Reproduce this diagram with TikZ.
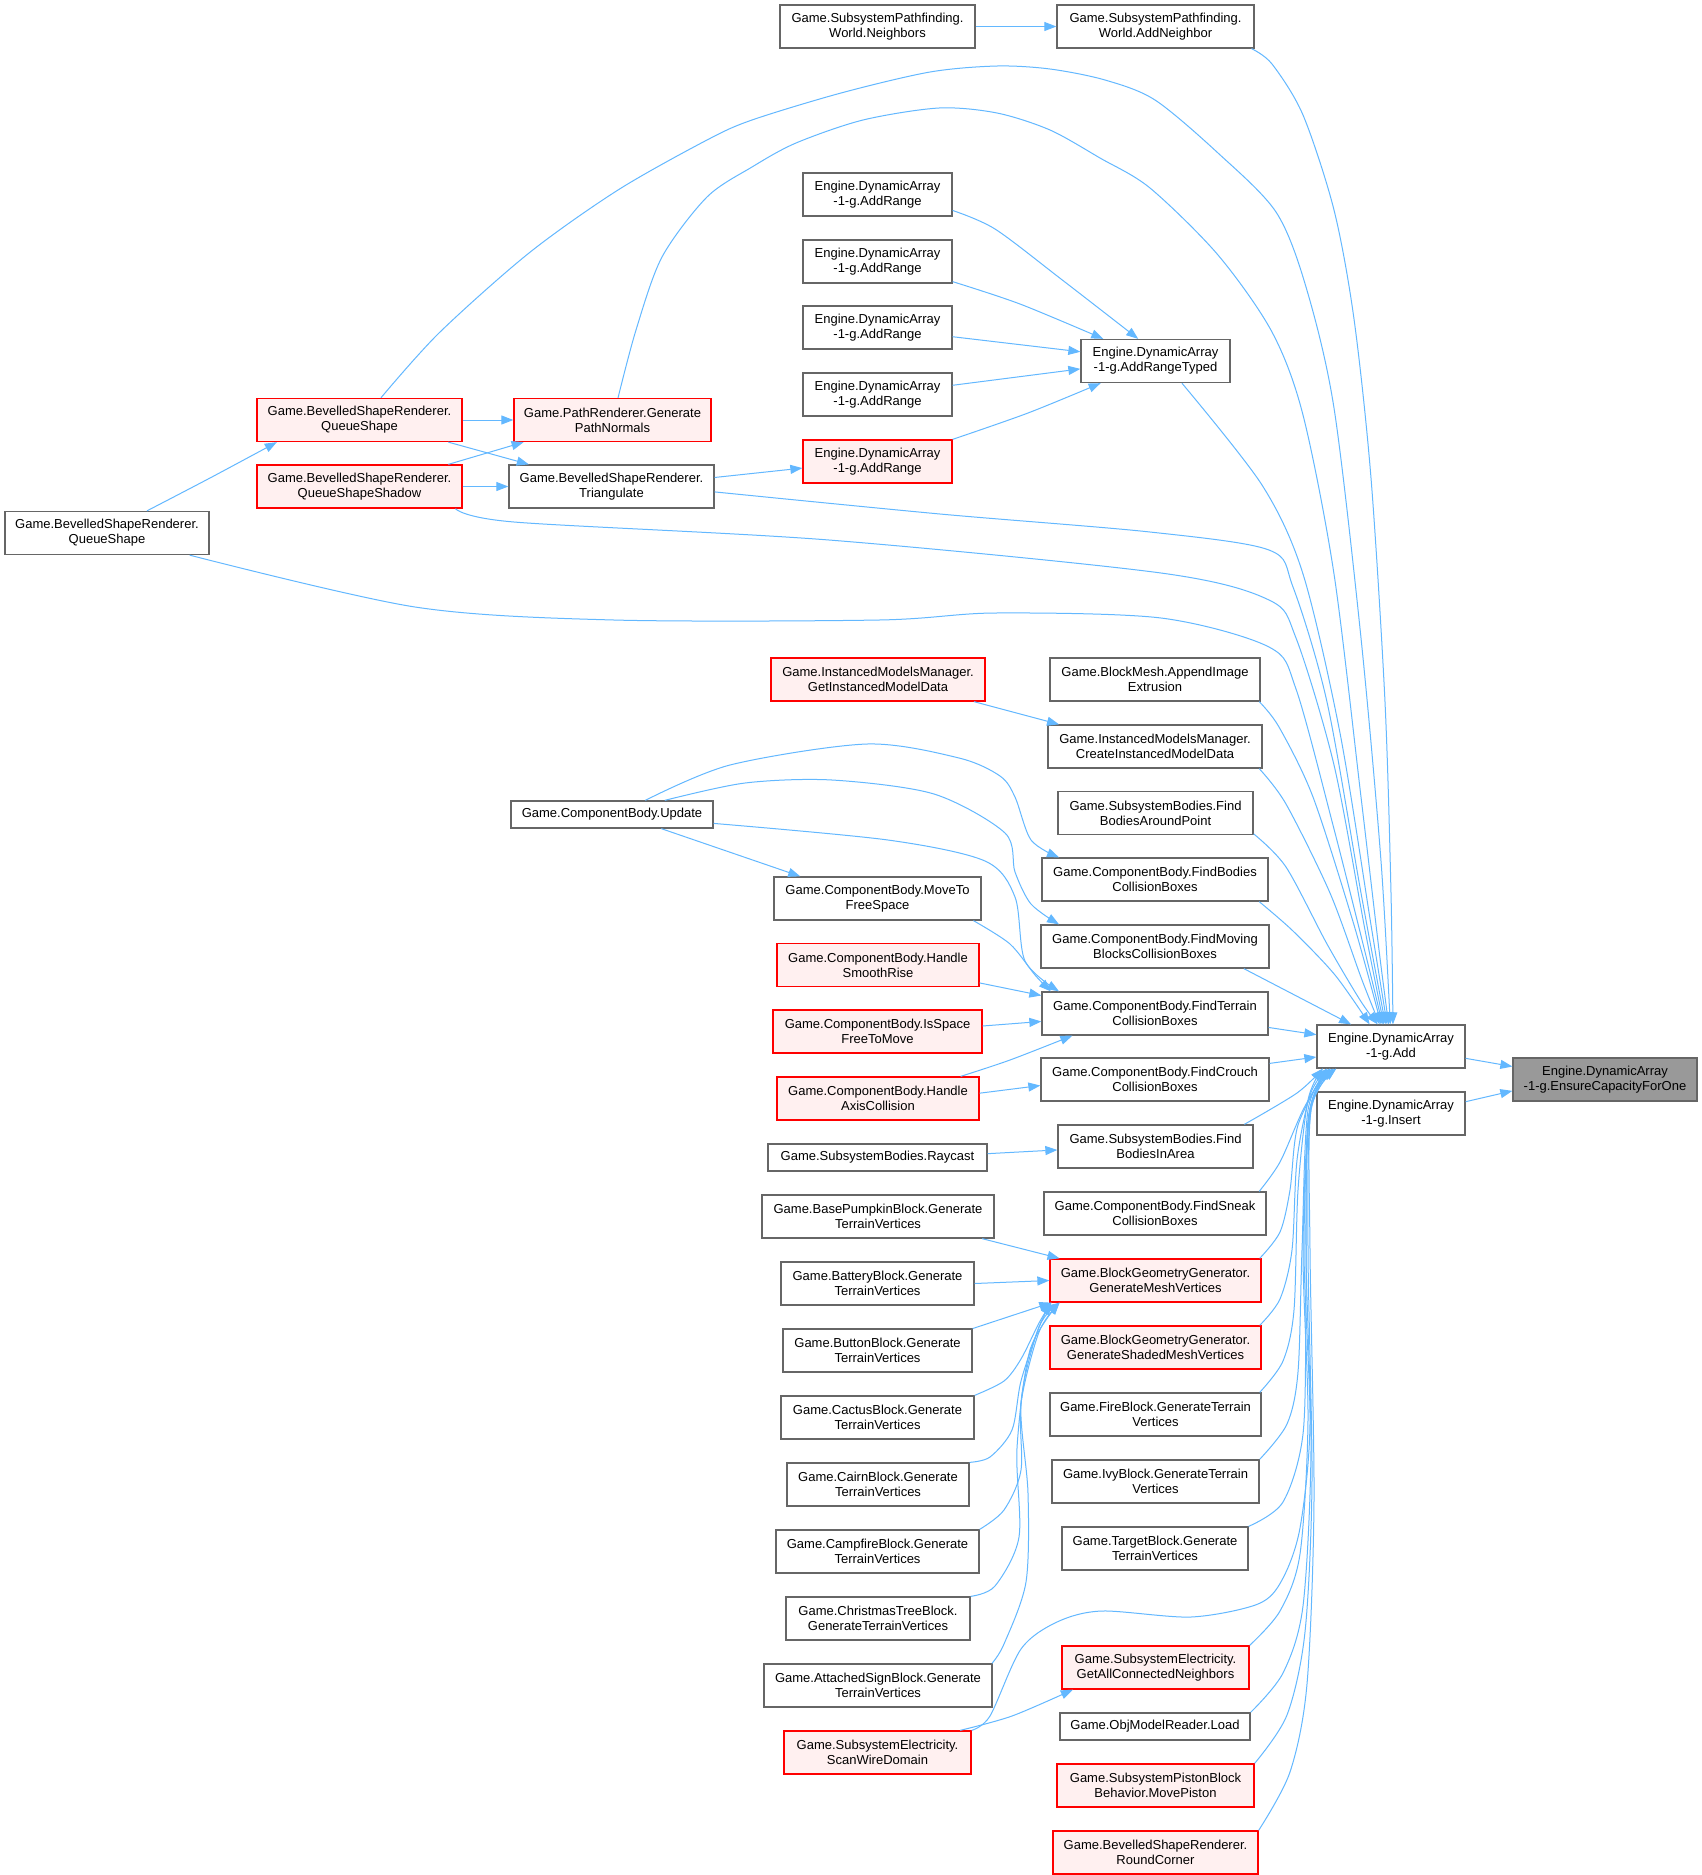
\documentclass[tikz,border=0pt]{standalone}
\usepackage{fontspec}
\setmainfont{Liberation Sans}
\usetikzlibrary{arrows.meta}
\definecolor{edgec}{HTML}{63B8FF}
\definecolor{boxb}{HTML}{666666}
\definecolor{redb}{HTML}{FF0000}
\definecolor{redf}{HTML}{FFF0F0}
\definecolor{grayf}{HTML}{999999}
\begin{document}
\begin{tikzpicture}[x=1pt,y=-1pt,
  nbox/.style={draw=boxb, fill=white, line width=1.3pt, align=center, inner sep=0pt,
    font=\fontsize{13}{15}\selectfont, minimum height=43pt},
  sbox/.style={nbox, minimum height=27pt},
  rbox/.style={nbox, draw=redb, fill=redf},
  gbox/.style={nbox, fill=grayf},
  edge/.style={draw=edgec, line width=1pt, -{Triangle[length=12pt,width=9pt]}},
  ]
\useasboundingbox (0,0) rectangle (1702,1875);
\fill[white] (0,0) rectangle (1702,1875);

% right
\node[gbox, minimum width=184pt] (ens) at (1605,1079.5) {Engine.DynamicArray\\-1-g.EnsureCapacityForOne};
\node[nbox, minimum width=148pt] (add) at (1391,1046.5) {Engine.DynamicArray\\-1-g.Add};
\node[nbox, minimum width=148pt] (ins) at (1391,1113.5) {Engine.DynamicArray\\-1-g.Insert};
% top
\node[nbox, minimum width=195pt] (nbr) at (877.5,26.5) {Game.SubsystemPathfinding.\\World.Neighbors};
\node[nbox, minimum width=197pt] (addnb) at (1155.5,26.5) {Game.SubsystemPathfinding.\\World.AddNeighbor};
\node[nbox, minimum width=149pt] (ar1) at (877.5,194.5) {Engine.DynamicArray\\-1-g.AddRange};
\node[nbox, minimum width=149pt] (ar2) at (877.5,261.5) {Engine.DynamicArray\\-1-g.AddRange};
\node[nbox, minimum width=149pt] (ar3) at (877.5,327.5) {Engine.DynamicArray\\-1-g.AddRange};
\node[nbox, minimum width=149pt] (ar4) at (877.5,394.5) {Engine.DynamicArray\\-1-g.AddRange};
\node[rbox, minimum width=149pt] (ar5) at (877.5,461.5) {Engine.DynamicArray\\-1-g.AddRange};
\node[nbox, minimum width=149pt] (art) at (1155.5,361) {Engine.DynamicArray\\-1-g.AddRangeTyped};
\node[rbox, minimum width=197pt] (gpn) at (612.5,420) {Game.PathRenderer.Generate\\PathNormals};
\node[rbox, minimum width=205pt] (qsr) at (359.5,420) {Game.BevelledShapeRenderer.\\QueueShape};
\node[rbox, minimum width=205pt] (qss) at (359.5,486.5) {Game.BevelledShapeRenderer.\\QueueShapeShadow};
\node[nbox, minimum width=205pt] (tri) at (611.5,486.5) {Game.BevelledShapeRenderer.\\Triangulate};
\node[nbox, minimum width=204pt] (qsl) at (107,533) {Game.BevelledShapeRenderer.\\QueueShape};
% middle column
\node[nbox, minimum width=210pt] (app) at (1155,679.5) {Game.BlockMesh.AppendImage\\Extrusion};
\node[rbox, minimum width=214pt] (gim) at (878,679.5) {Game.InstancedModelsManager.\\GetInstancedModelData};
\node[nbox, minimum width=214pt] (cim) at (1155,746.5) {Game.InstancedModelsManager.\\CreateInstancedModelData};
\node[nbox, minimum width=195pt] (fbap) at (1155.5,813) {Game.SubsystemBodies.Find\\BodiesAroundPoint};
\node[nbox, minimum width=226pt] (fbcb) at (1155,879.5) {Game.ComponentBody.FindBodies\\CollisionBoxes};
\node[nbox, minimum width=228pt] (fmb) at (1155,946.5) {Game.ComponentBody.FindMoving\\BlocksCollisionBoxes};
\node[nbox, minimum width=226pt] (ftc) at (1155,1013.5) {Game.ComponentBody.FindTerrain\\CollisionBoxes};
\node[nbox, minimum width=228pt] (fcc) at (1155,1079.5) {Game.ComponentBody.FindCrouch\\CollisionBoxes};
\node[nbox, minimum width=195pt] (fbia) at (1155.5,1146.5) {Game.SubsystemBodies.Find\\BodiesInArea};
\node[nbox, minimum width=222pt] (fsc) at (1155,1213.5) {Game.ComponentBody.FindSneak\\CollisionBoxes};
\node[rbox, minimum width=211pt] (gmv) at (1155.5,1280.5) {Game.BlockGeometryGenerator.\\GenerateMeshVertices};
\node[rbox, minimum width=211pt] (gsmv) at (1155.5,1347.5) {Game.BlockGeometryGenerator.\\GenerateShadedMeshVertices};
\node[nbox, minimum width=211pt] (fire) at (1155.5,1414.5) {Game.FireBlock.GenerateTerrain\\Vertices};
\node[nbox, minimum width=207pt] (ivy) at (1155.5,1481.5) {Game.IvyBlock.GenerateTerrain\\Vertices};
\node[nbox, minimum width=186pt] (tgt) at (1155,1548.5) {Game.TargetBlock.Generate\\TerrainVertices};
\node[rbox, minimum width=187pt] (gacn) at (1155.5,1667.5) {Game.SubsystemElectricity.\\GetAllConnectedNeighbors};
\node[sbox, minimum width=190pt] (obj) at (1155,1726.5) {Game.ObjModelReader.Load};
\node[rbox, minimum width=197pt] (mp) at (1155.5,1785.5) {Game.SubsystemPistonBlock\\Behavior.MovePiston};
\node[rbox, minimum width=205pt] (rc) at (1155.5,1852.5) {Game.BevelledShapeRenderer.\\RoundCorner};
% left column
\node[sbox, minimum width=202pt] (upd) at (612,814.5) {Game.ComponentBody.Update};
\node[nbox, minimum width=207pt] (mtfs) at (877.5,898.5) {Game.ComponentBody.MoveTo\\FreeSpace};
\node[rbox, minimum width=202pt] (hsr) at (878,965) {Game.ComponentBody.Handle\\SmoothRise};
\node[rbox, minimum width=209pt] (isf) at (877.5,1031.5) {Game.ComponentBody.IsSpace\\FreeToMove};
\node[rbox, minimum width=202pt] (hac) at (878,1098.5) {Game.ComponentBody.Handle\\AxisCollision};
\node[sbox, minimum width=219pt] (ray) at (877.5,1157.5) {Game.SubsystemBodies.Raycast};
\node[nbox, minimum width=232pt] (bpb) at (878,1216.5) {Game.BasePumpkinBlock.Generate\\TerrainVertices};
\node[nbox, minimum width=193pt] (bat) at (877.5,1283.5) {Game.BatteryBlock.Generate\\TerrainVertices};
\node[nbox, minimum width=189pt] (btn) at (877.5,1350.5) {Game.ButtonBlock.Generate\\TerrainVertices};
\node[nbox, minimum width=193pt] (cac) at (877.5,1417.5) {Game.CactusBlock.Generate\\TerrainVertices};
\node[nbox, minimum width=182pt] (cairn) at (878,1484.5) {Game.CairnBlock.Generate\\TerrainVertices};
\node[nbox, minimum width=203pt] (camp) at (877.5,1551.5) {Game.CampfireBlock.Generate\\TerrainVertices};
\node[nbox, minimum width=184pt] (xmas) at (878,1618.5) {Game.ChristmasTreeBlock.\\GenerateTerrainVertices};
\node[nbox, minimum width=228pt] (sign) at (878,1685.5) {Game.AttachedSignBlock.Generate\\TerrainVertices};
\node[rbox, minimum width=187pt] (swd) at (877.5,1752.5) {Game.SubsystemElectricity.\\ScanWireDomain};

% edges: right
\draw[edge] (add.-9) -- (ens.172);
\draw[edge] (ins.9) -- (ens.187);
% top
\draw[edge] (nbr.east) -- (addnb.west);
\draw[edge] plot[smooth] coordinates {(addnb.-13) (1272,64) (1303,115) (1334,210) (1354,319) (1371,478) (1385,702) (1391,893) (add.85)};
\draw[edge] plot[smooth] coordinates {(qsr.46) (439,333) (529,253) (618,190) (707,140) (752,120) (841,93) (930,72) (997,66) (1050,69) (1105,80) (1155,100) (1218,153) (1276,212) (1306,287) (1334,408) (1361,638) (1381,861) (add.92)};
\draw[edge] plot[smooth] coordinates {(gpn.76) (636,330) (662,257) (707,197) (752,167) (796,143) (863,120) (939,108) (997,113) (1050,130) (1100,158) (1150,188) (1218,255) (1272,332) (1303,415) (1334,574) (1361,797) (1379,950) (add.96)};
\draw[edge] plot[smooth] coordinates {(art.-40) (1262,485) (1303,574) (1340,733) (1371,925) (add.100)};
\draw[edge] plot[smooth] coordinates {(tri.-3.6) (940,514) (1150,532) (1269,550) (1293,587) (1327,702) (1361,893) (add.104)};
\draw[edge] plot[smooth] coordinates {(qss.-13) (514,522) (829,540) (1161,573) (1269,600) (1296,638) (1334,765) (1365,930) (add.108)};
\draw[edge] plot[smooth] coordinates {(qsl.-15) (415,607) (614,620) (879,620) (995,613) (1161,618) (1269,647) (1296,689) (1334,829) (1367,960) (add.111)};
\draw[edge] plot[smooth] coordinates {(app.-12) (1279,727) (1313,797) (1354,925) (add.114)};
\draw[edge] plot[smooth] coordinates {(cim.-12.3) (1286,804) (1330,893) (1362,980) (add.117)};
\draw[edge] plot[smooth] coordinates {(fbap.-12.6) (1286,867) (1327,944) (1360,1000) (add.121)};
\draw[edge] plot[smooth] coordinates {(fbcb.-12.9) (1293,931) (1335,975) (add.134)};
\draw[edge] (fmb.-14.2) -- (add.151);
\draw[edge] (ftc.-7.8) -- (add.171.9);
\draw[edge] (fcc.8.2) -- (add.188.1);
\draw[edge] plot[smooth] coordinates {(fbia.14) (1297,1093) (add.198.6)};
% lower callers of Add
\draw[edge] plot[smooth] coordinates {(fsc.12.5) (1280,1162) (1303,1110) (add.199)};
\draw[edge] plot[smooth] coordinates {(gmv.12.2) (1280,1232) (1290,1190) (1298,1125) (add.199)};
\draw[edge] plot[smooth] coordinates {(gsmv.12.2) (1280,1299) (1292,1250) (1297,1160) (1310,1095) (add.199.5)};
\draw[edge] plot[smooth] coordinates {(fire.12.2) (1283,1361) (1294,1310) (1298,1190) (1308,1100) (add.198)};
\draw[edge] plot[smooth] coordinates {(ivy.12) (1287,1424) (1298,1372) (1302,1250) (1308,1110) (add.200)};
\draw[edge] plot[smooth] coordinates {(tgt.north east) (1283,1502) (1303,1434) (1306,1300) (1308,1120) (add.200)};
\draw[edge] plot[smooth] coordinates {(gacn.north east) (1280,1611) (1300,1554) (1308,1420) (1303,1250) (1310,1110) (add.201)};
\draw[edge] plot[smooth] coordinates {(obj.north east) (1283,1673) (1303,1606) (1311,1450) (1306,1250) (1310,1110) (add.201)};
\draw[edge] plot[smooth] coordinates {(mp.north east) (1287,1715) (1305,1632) (1312,1480) (1308,1250) (1311,1110) (add.202)};
\draw[edge] plot[smooth] coordinates {(rc.north east) (1290,1772) (1307,1684) (1314,1500) (1310,1250) (1311,1110) (add.202)};
\draw[edge] plot[smooth] coordinates {(swd.north east) (990,1716) (1021,1649) (1057,1622) (1102,1611) (1191,1617) (1258,1604) (1282,1580) (1300,1528) (1310,1424) (1304,1250) (1310,1110) (add.200)};
% left middle
\draw[edge] plot[smooth] coordinates {(upd.23.5) (730,765) (867,744) (959,758) (1000,776) (1015,797) (1031,840) (fbcb.167)};
\draw[edge] plot[smooth] coordinates {(upd.15) (745,783) (832,780) (934,794) (1005,833) (1015,872) (1031,904) (fmb.167.5)};
\draw[edge] plot[smooth] coordinates {(upd.-5) (888,840) (985,861) (1015,897) (1025,961) (ftc.167.5)};
\draw[edge] (upd.-16) -- (mtfs.164);
\draw[edge] plot[smooth] coordinates {(mtfs.-13) (1010,944) (1035,975) (ftc.168)};
\draw[edge] (hsr.-10.1) -- (ftc.171);
\draw[edge] (isf.3.6) -- (ftc.184);
\draw[edge] plot[smooth] coordinates {(hac.15) (1010,1060) (ftc.195)};
\draw[edge] (hac.3.7) -- (fcc.183.8);
\draw[edge] (ray.2.4) -- (fbia.182.6);
\draw[edge] (gim.-13.3) -- (cim.167);
% callers of GenerateMeshVertices
\draw[edge] (bpb.-12.75) -- (gmv.167.7);
\draw[edge] (bat.east) -- (gmv.west);
\draw[edge] (btn.13.5) -- (gmv.192);
\draw[edge] plot[smooth] coordinates {(cac.north east) (1004,1381) (1021,1359) (1039,1323) (gmv.192.5)};
\draw[edge] plot[smooth] coordinates {(cairn.north east) (990,1457) (1012,1430) (1021,1381) (1039,1327) (gmv.192.5)};
\draw[edge] plot[smooth] coordinates {(camp.north east) (1004,1510) (1021,1470) (1021,1403) (1039,1332) (gmv.193)};
\draw[edge] plot[smooth] coordinates {(xmas.north east) (995,1586) (1019,1537) (1017,1448) (1030,1350) (gmv.193)};
\draw[edge] plot[smooth] coordinates {(sign.11.8) (1004,1644) (1026,1582) (1028,1493) (1021,1403) (1039,1327) (gmv.193.5)};
\draw[edge] plot[smooth] coordinates {(swd.15) (1012,1716) (gacn.195)};
% top-left
\draw[edge] plot[smooth] coordinates {(qsl.29.5) (210,478) (qsr.195.5)};
\draw[edge] (qsr.east) -- (gpn.west);
\draw[edge] (qsr.-14.3) -- (tri.165.7);
\draw[edge] (qss.14.3) -- (gpn.194);
\draw[edge] (qss.east) -- (tri.west);
\draw[edge] (tri.5.8) -- (ar5.185.7);
\draw[edge] plot[smooth] coordinates {(ar1.-12.5) (995,229) (1061,279) (art.128)};
\draw[edge] plot[smooth] coordinates {(ar2.-15.4) (1020,304) (art.157.7)};
\draw[edge] (ar3.-7.3) -- (art.173.1);
\draw[edge] (ar4.7.3) -- (art.186.9);
\draw[edge] plot[smooth] coordinates {(ar5.north east) (1028,413) (art.202)};
\end{tikzpicture}
\end{document}
